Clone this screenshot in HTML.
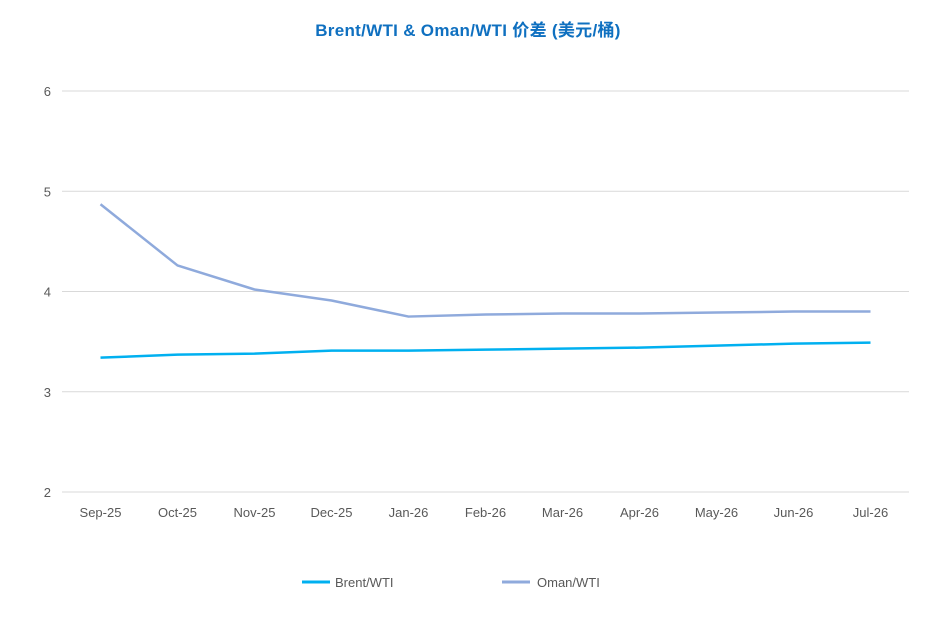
<!DOCTYPE html>
<html><head><meta charset="utf-8"><style>
body{margin:0;background:#fff;}
svg{display:block;font-family:"Liberation Sans","Noto Sans CJK SC",sans-serif;}
</style></head><body>
<svg id="chart" width="937" height="634" viewBox="0 0 937 634">
<text x="468" y="36" text-anchor="middle" font-size="17" letter-spacing="0.3" font-weight="bold" fill="#0f70c0">Brent/WTI &amp; Oman/WTI 价差 (美元/桶)</text>
<g id="grid"></g><g id="xlabels"></g><g id="series"></g>
<g>
<line x1="302" y1="582" x2="330" y2="582" stroke="#00b0f0" stroke-width="3"/>
<text x="335" y="587" font-size="13" fill="#595959">Brent/WTI</text>
<line x1="502" y1="582" x2="530" y2="582" stroke="#8faadc" stroke-width="3"/>
<text x="537" y="587" font-size="13" fill="#595959">Oman/WTI</text>
</g>
</svg>
<script>
const categories=["Sep-25","Oct-25","Nov-25","Dec-25","Jan-26","Feb-26","Mar-26","Apr-26","May-26","Jun-26","Jul-26"];
const brent=[3.34,3.37,3.38,3.41,3.41,3.42,3.43,3.44,3.46,3.48,3.49];
const oman=[4.87,4.26,4.02,3.91,3.75,3.77,3.78,3.78,3.79,3.80,3.80];
const yTicks=[2,3,4,5,6];
const NS="http://www.w3.org/2000/svg";
const L=62,R=909,T=91,B=492,yMin=2,yMax=6;
const band=(R-L)/categories.length;
const x=i=>L+band*(i+0.5);
const y=v=>B-(v-yMin)/(yMax-yMin)*(B-T);
function mk(tag,attrs,parent){const e=document.createElementNS(NS,tag);for(const k in attrs)e.setAttribute(k,attrs[k]);parent.appendChild(e);return e;}
const grid=document.getElementById('grid');
yTicks.forEach(t=>{
 const ln=mk('line',{x1:L,x2:R,y1:y(t),y2:y(t),stroke:'#d9d9d9','stroke-width':1},grid);
 
 
 const tx=mk('text',{x:51,y:y(t)+5,'text-anchor':'end','font-size':13,fill:'#595959'},grid);
 tx.textContent=t;
 
 
});
const xl=document.getElementById('xlabels');
categories.forEach((c,i)=>{
 const tx=mk('text',{x:x(i),y:517,'text-anchor':'middle','font-size':13,fill:'#595959'},xl);
 tx.textContent=c;
 
 
});
const sg=document.getElementById('series');
[[oman,'#8faadc','oman-wti-line'],[brent,'#00b0f0','brent-wti-line']].forEach(([d,col,name])=>{
 const p=mk('polyline',{points:d.map((v,i)=>x(i)+','+y(v)).join(' '),fill:'none',stroke:col,'stroke-width':2.5,'stroke-linejoin':'round'},sg);
 
 
});
</script>
</body></html>
